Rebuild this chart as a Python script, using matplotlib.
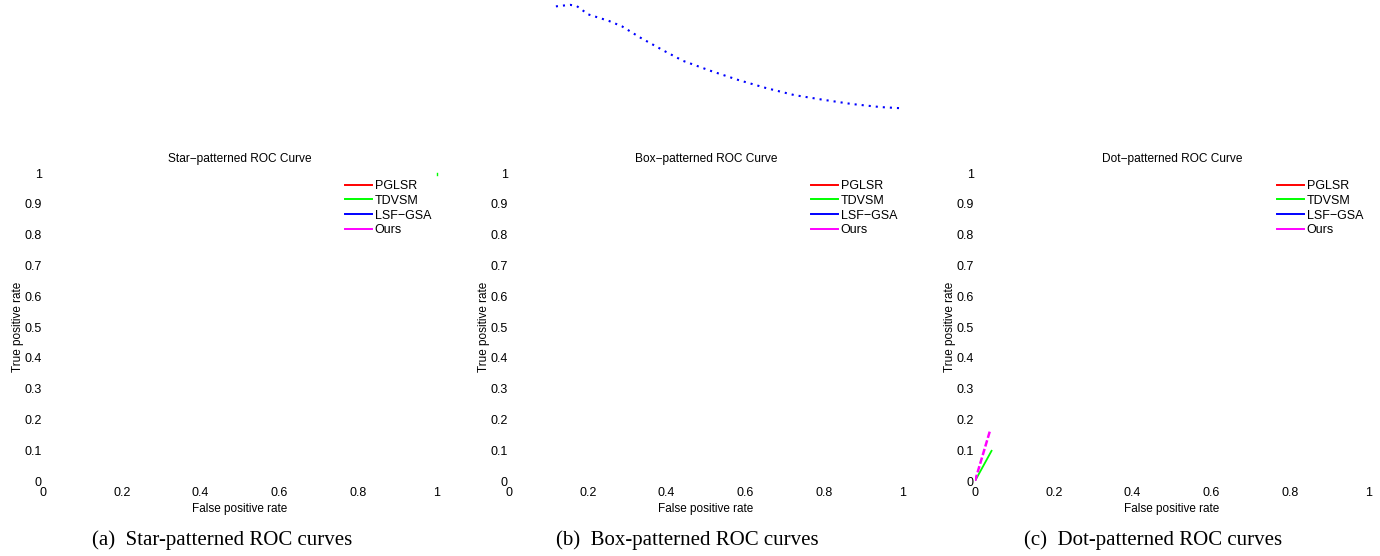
import numpy as np
import matplotlib
matplotlib.use('Agg')
import matplotlib.pyplot as plt
from matplotlib.lines import Line2D

plt.rcParams['font.family'] = ['Liberation Sans', 'DejaVu Sans']

# ---- data ----
methods = ['PGLSR', 'TDVSM', 'LSF\u2212GSA', 'Ours']
method_colors = ['#ff0000', '#00ff00', '#0000ff', '#ff00ff']

titles = ['Star\u2212patterned ROC Curve', 'Box\u2212patterned ROC Curve',
          'Dot\u2212patterned ROC Curve']
captions = ['(a)  Star-patterned ROC curves', '(b)  Box-patterned ROC curves',
            '(c)  Dot-patterned ROC curves']

xtick_vals = [0, 0.2, 0.4, 0.6, 0.8, 1]
xtick_labels = ['0', '0.2', '0.4', '0.6', '0.8', '1']
ytick_vals = [0, 0.1, 0.2, 0.3, 0.4, 0.5, 0.6, 0.7, 0.8, 0.9, 1]
ytick_labels = ['0', '0.1', '0.2', '0.3', '0.4', '0.5', '0.6', '0.7', '0.8', '0.9', '1']

# star panel: only a sliver of TDVSM survives at (1,1)
star_tdvsm_fpr = [1.0, 1.0]
star_tdvsm_tpr = [0.993, 1.0]

# box panel: LSF-GSA dotted curve, drawn above the axes
box_lsf_fpr = [0.119, 0.155, 0.172, 0.201, 0.253, 0.287, 0.334, 0.393, 0.442,
               0.511, 0.582, 0.652, 0.724, 0.796, 0.870, 0.943, 0.999]
box_lsf_tpr = [1.541, 1.546, 1.542, 1.515, 1.494, 1.476, 1.439, 1.397, 1.364,
               1.332, 1.302, 1.276, 1.253, 1.238, 1.224, 1.214, 1.210]

# dot panel: short pieces near the origin
dot_tdvsm_fpr = [0.0, 0.042]
dot_tdvsm_tpr = [0.0, 0.098]
dot_ours_fpr = [0.0, 0.038]
dot_ours_tpr = [0.0, 0.163]

W, H = 1380, 556
fig = plt.figure(figsize=(W / 100, H / 100), dpi=100)

lefts = [43, 509, 975]
ax_w, ax_top, ax_bot = 394, 173, 481
axes = []
for i, left in enumerate(lefts):
    ax = fig.add_axes([left / W, 1 - ax_bot / H, ax_w / W, (ax_bot - ax_top) / H])
    ax.set_xlim(0, 1)
    ax.set_ylim(0, 1)
    ax.set_xticks(xtick_vals)
    ax.set_xticklabels(xtick_labels)
    ax.set_yticks(ytick_vals)
    ax.set_yticklabels(ytick_labels)
    for s in ax.spines.values():
        s.set_visible(False)
    ax.tick_params(axis='both', length=0, labelsize=9)
    ax.tick_params(axis='y', pad=1)
    ax.tick_params(axis='x', pad=4)
    ax.set_title(titles[i], fontsize=8.6, pad=8)
    ax.set_xlabel('False positive rate', fontsize=8.5, labelpad=3.5)
    ax.set_ylabel('True positive rate', fontsize=8.5, labelpad=0.3)

    handles = [Line2D([], [], color=c, lw=1.4) for c in method_colors]
    ax.legend(handles, methods, loc='upper right', bbox_to_anchor=(0.985, 0.977),
              frameon=False, fontsize=9, handlelength=2.15, handletextpad=0.2,
              labelspacing=0.22, borderaxespad=0, borderpad=0)
    axes.append(ax)

# curves
axes[0].plot(star_tdvsm_fpr, star_tdvsm_tpr, color='#00ff00', lw=1.0, clip_on=False)

axes[1].plot(box_lsf_fpr, box_lsf_tpr, color='#0000ff', lw=1.5,
             dashes=(1, 2.4), clip_on=False)

axes[2].plot(dot_tdvsm_fpr, dot_tdvsm_tpr, color='#00ff00', lw=1.3)
axes[2].plot(dot_ours_fpr, dot_ours_tpr, color='#ff00ff', lw=1.8, dashes=(2.6, 1.0))

# sub-figure captions sit a little left of each axes centre
caption_x = [222, 687.5, 1153]
for cx, cap in zip(caption_x, captions):
    fig.text(cx / W, 1 - 540 / H, cap, ha='center', va='center',
             fontsize=15, family='Liberation Serif')

plt.savefig('out.png', dpi=100)
